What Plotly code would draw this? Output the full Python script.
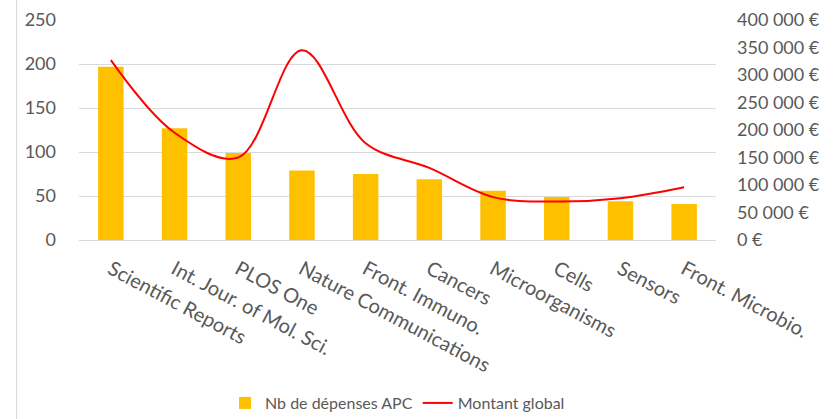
import plotly.graph_objects as go

categories = ["Scientific Reports", "Int. Jour. of Mol. Sci.", "PLOS One", "Nature Communications",
              "Front. Immuno.", "Cancers", "Microorganisms", "Cells", "Sensors", "Front. Microbio."]
nb_depenses = [197, 127, 99, 79, 75, 69, 56, 49, 44, 41]
montant_global = [327000, 195000, 150000, 345000, 176000, 131000, 78000, 70000, 76000, 96000]

right_ticks = [0, 50000, 100000, 150000, 200000, 250000, 300000, 350000, 400000]
right_labels = ["0 €", "50 000 €", "100 000 €", "150 000 €", "200 000 €",
                "250 000 €", "300 000 €", "350 000 €", "400 000 €"]

FONT = "Lato"
GRAY = "#595959"

fig = go.Figure()
fig.add_trace(go.Bar(x=categories, y=nb_depenses, name="Nb de dépenses APC",
                     marker=dict(color="#FFC000", line=dict(width=0))))
fig.add_trace(go.Scatter(x=categories, y=montant_global, name="Montant global", yaxis="y2",
                         mode="lines", line=dict(color="#FF0000", width=2, shape="spline", smoothing=1)))

fig.update_layout(
    width=839, height=419,
    margin=dict(l=79, r=123, t=20, b=179, autoexpand=False),
    paper_bgcolor="white", plot_bgcolor="white",
    font=dict(family=FONT, color=GRAY, size=16),
    bargap=0.6,
    showlegend=True,
    legend=dict(orientation="h", x=0.5, xanchor="center", y=-0.741, yanchor="middle",
                font=dict(size=16, color=GRAY), itemwidth=30, traceorder="normal"),
    xaxis=dict(tickangle=28, showgrid=False, showline=False, ticks="", automargin=False,
               tickfont=dict(size=20, color=GRAY), ticklabelstandoff=13),
    yaxis=dict(range=[0, 250], dtick=50, showgrid=True, gridcolor="#D9D9D9", gridwidth=1,
               zeroline=True, zerolinecolor="#D9D9D9", zerolinewidth=1, ticks="", automargin=False,
               tickfont=dict(size=18, color=GRAY), ticklabelstandoff=22),
    yaxis2=dict(range=[0, 400000], overlaying="y", side="right", showgrid=False, automargin=False,
                zeroline=False, tickvals=right_ticks, ticktext=right_labels, ticks="",
                tickfont=dict(size=18, color=GRAY), ticklabelstandoff=20),
    shapes=[
        dict(type="line", xref="paper", yref="paper", x0=-0.098, x1=-0.098, y0=-1, y1=1.2,
             line=dict(color="#D9D9D9", width=1)),
    ],
)

fig.write_html("out.html")
